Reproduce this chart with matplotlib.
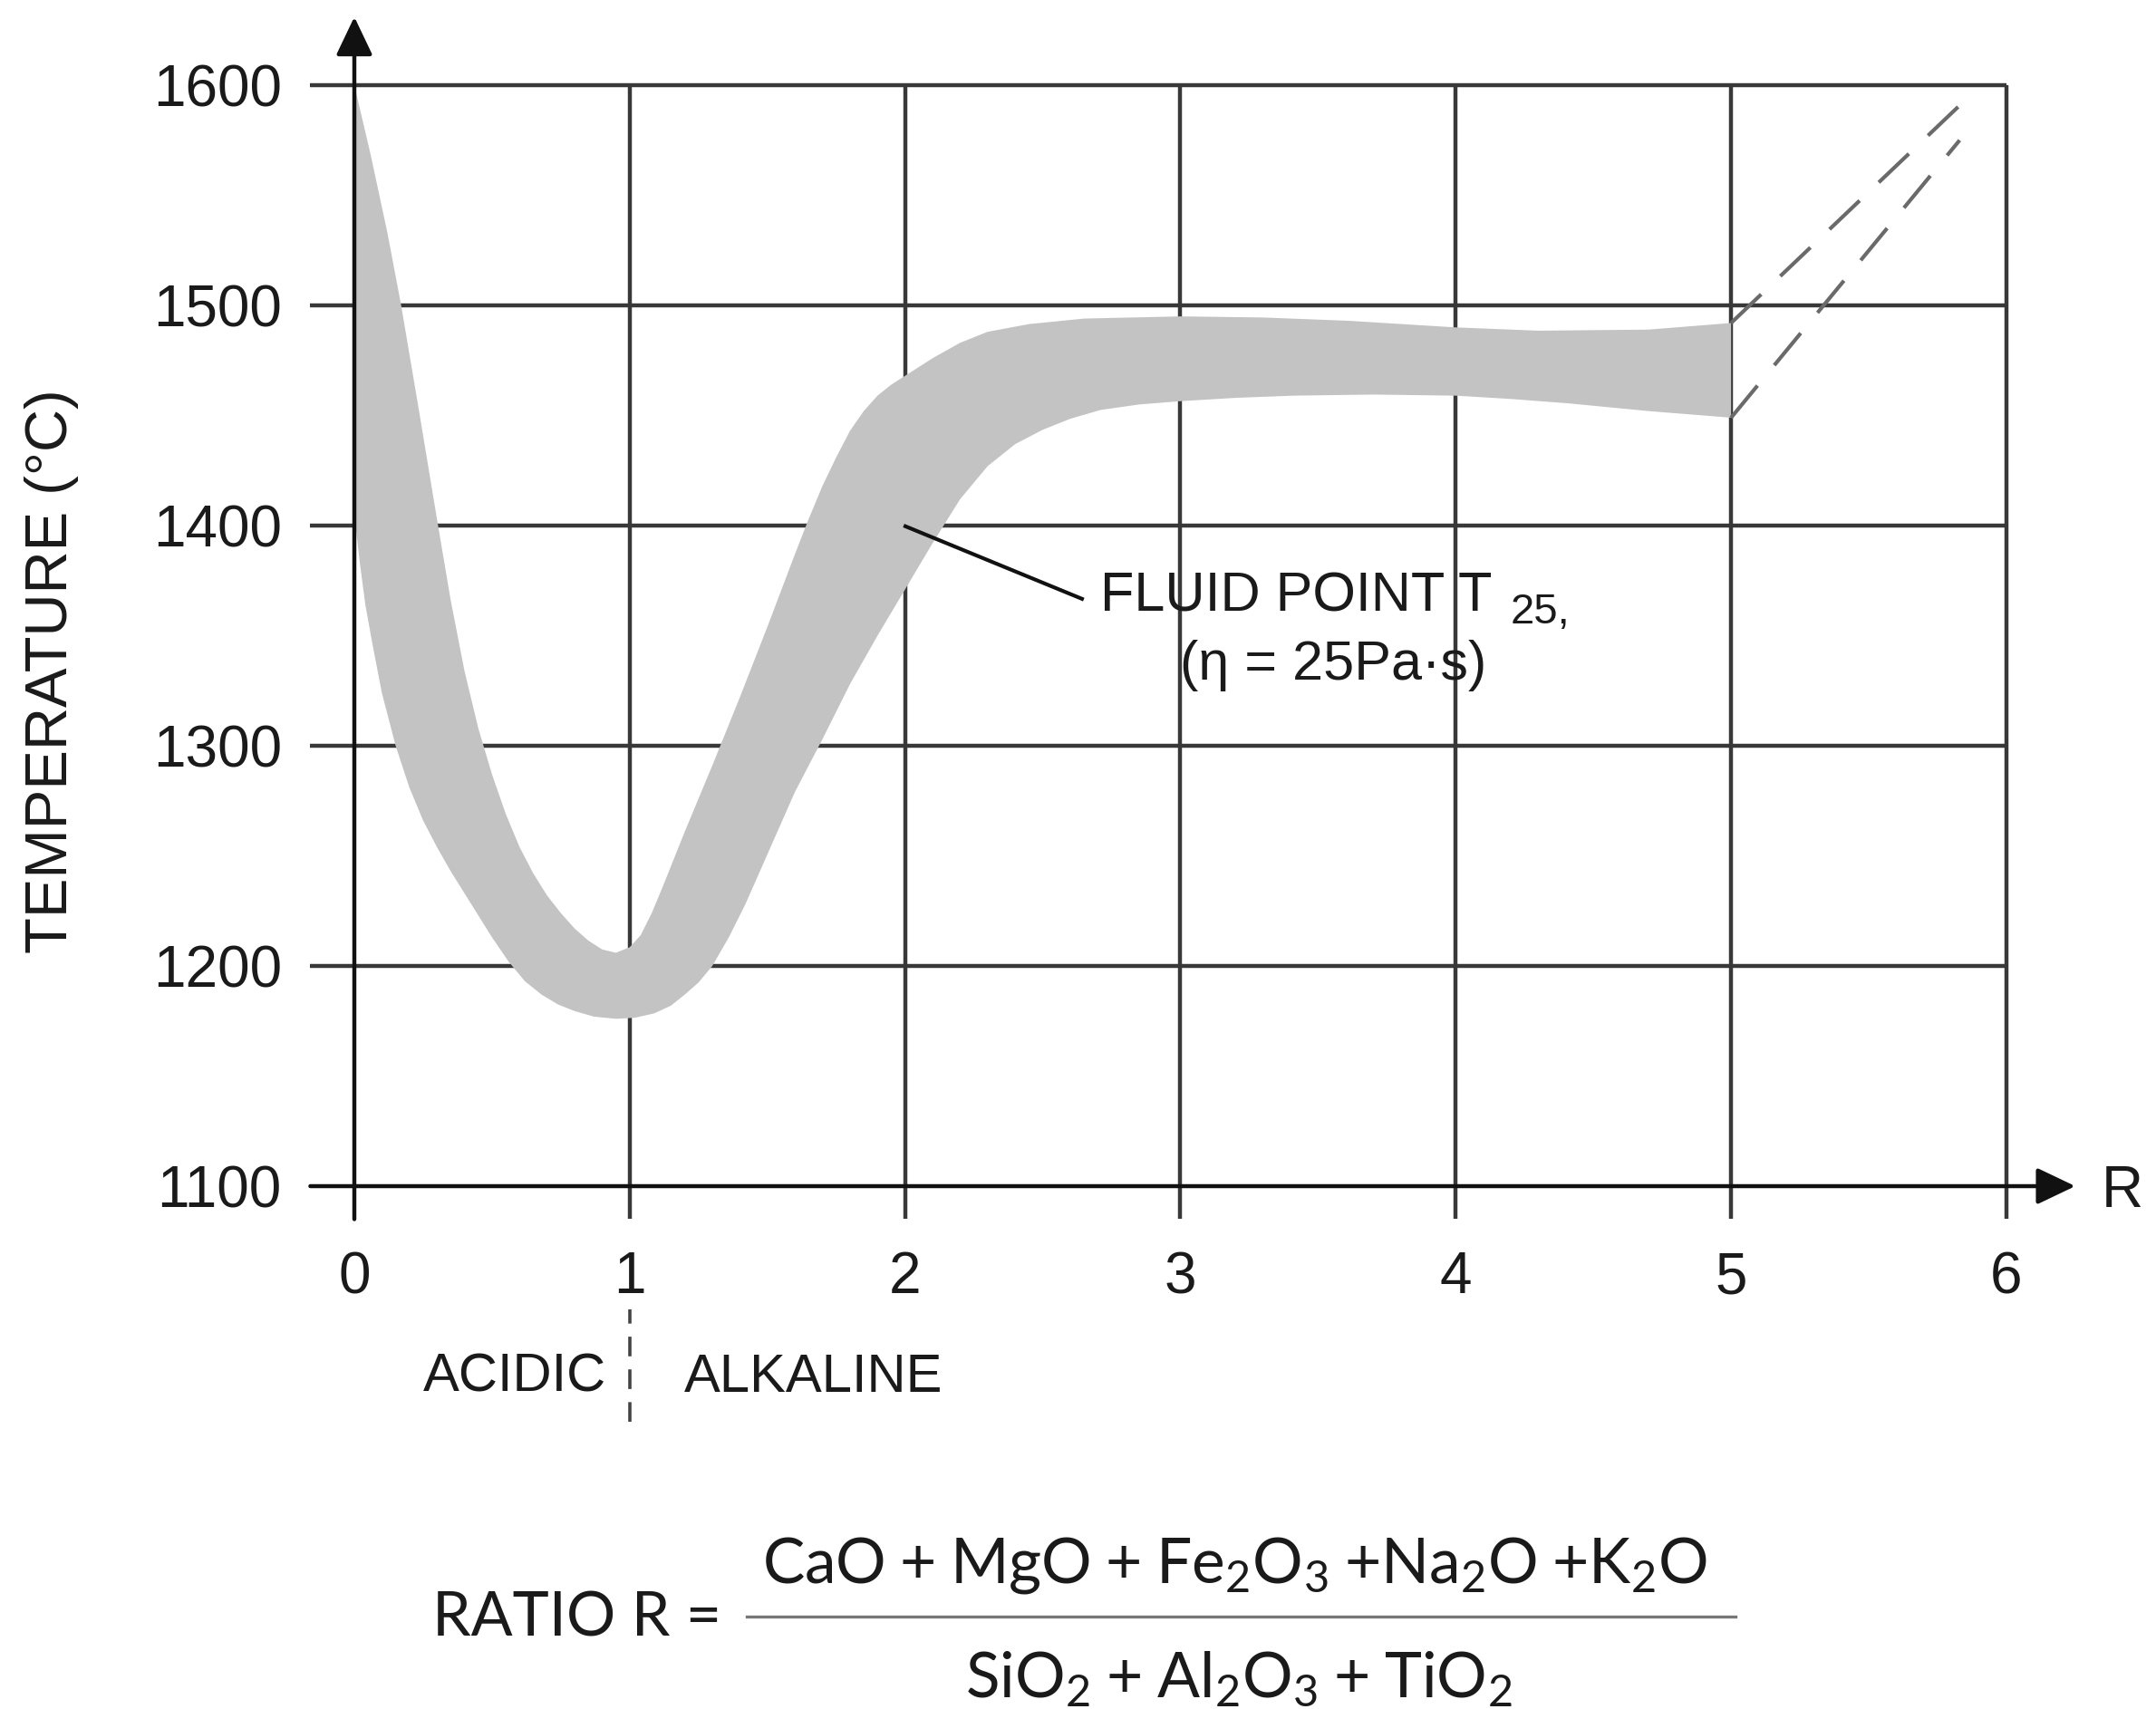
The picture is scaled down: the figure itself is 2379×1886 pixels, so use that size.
import matplotlib
matplotlib.use("Agg")
import matplotlib.pyplot as plt
from matplotlib.lines import Line2D

plt.rcParams["font.family"] = ["Liberation Sans", "DejaVu Sans"]
plt.rcParams["mathtext.fontset"] = "custom"
plt.rcParams["mathtext.rm"] = "Lato"
plt.rcParams["mathtext.it"] = "Lato:italic"
plt.rcParams["mathtext.bf"] = "Lato:bold"

# fluid point band, upper and lower edge (R, temperature in °C)
upper_r = [0.00, 0.06, 0.12, 0.17, 0.235, 0.30, 0.35, 0.40, 0.45, 0.50, 0.55,
           0.60, 0.65, 0.70, 0.75, 0.80, 0.85, 0.90, 0.95, 1.00, 1.04, 1.08,
           1.12, 1.20, 1.30, 1.40, 1.50, 1.60, 1.65, 1.70, 1.75, 1.80, 1.85,
           1.90, 1.95, 2.00, 2.10, 2.20, 2.30, 2.45, 2.65, 3.00, 3.30, 3.61,
           4.00, 4.30, 4.70, 5.00]
upper_t = [1600, 1568, 1533, 1500, 1452, 1403, 1366, 1334, 1308, 1287, 1269,
           1254, 1242, 1232, 1224, 1217, 1211.5, 1207.5, 1206, 1208.5, 1214, 1224,
           1236, 1261, 1291, 1322, 1354, 1387, 1403, 1418, 1431, 1443, 1452,
           1459, 1464, 1468, 1476, 1483, 1488, 1491.5, 1494, 1495, 1494.5, 1493,
           1490, 1488.5, 1489, 1492]

lower_r = [0.00, 0.02, 0.04, 0.066, 0.10, 0.15, 0.20, 0.25, 0.30, 0.35, 0.40,
           0.45, 0.50, 0.56, 0.62, 0.68, 0.74, 0.80, 0.87, 0.95, 1.02, 1.09,
           1.15, 1.20, 1.25, 1.30, 1.36, 1.42, 1.48, 1.54, 1.60, 1.70, 1.80,
           1.90, 2.00, 2.10, 2.20, 2.30, 2.40, 2.50, 2.60, 2.71, 2.85, 3.00,
           3.20, 3.41, 3.70, 4.00, 4.20, 4.41, 4.70, 5.00]
lower_t = [1405, 1383, 1364, 1346, 1324, 1300, 1281, 1266, 1254, 1243, 1233,
           1223, 1213, 1202, 1193, 1187, 1182.5, 1179.5, 1177, 1176, 1176.5, 1178.5,
           1182, 1187, 1192.5, 1200, 1213, 1228, 1245, 1262, 1279, 1303, 1328,
           1350, 1371, 1392, 1412, 1427, 1437, 1443.5, 1448.5, 1452.5, 1455, 1456.5,
           1458, 1459, 1459.5, 1459, 1457.5, 1455.5, 1452, 1449]

# dashed extrapolation beyond R = 5
ext_upper_r = [5.00, 5.84]
ext_upper_t = [1492, 1592]
ext_lower_r = [5.00, 5.83]
ext_lower_t = [1449, 1575]

x_ticks = [0, 1, 2, 3, 4, 5, 6]
y_ticks = [1100, 1200, 1300, 1400, 1500, 1600]

leader_r = [1.995, 2.649]
leader_t = [1400, 1366.4]

acid_split = 1.0

GRID = "#383838"
TEXT = "#1a1a1a"

fig = plt.figure(figsize=(23.79, 18.86), dpi=100)
ax = fig.add_axes([0.13881, 0.28661, 0.84291, 0.70864])
ax.set_xlim(-0.2, 6.4)
ax.set_ylim(1085, 1635)
for s in ax.spines.values():
    s.set_visible(False)

ax.set_xticks(x_ticks)
ax.set_yticks(y_ticks)
ax.tick_params(axis="both", length=0, labelsize=46, colors=TEXT)
ax.tick_params(axis="x", pad=25)
ax.tick_params(axis="y", pad=14)

# grid lines (they stick out past the axes like ticks)
ax.hlines(y_ticks[1:], -0.16, x_ticks[-1], color=GRID, lw=3.2, zorder=1)
ax.vlines(x_ticks[1:], 1085, y_ticks[-1], color=GRID, lw=3.2, zorder=1)

# band
ax.fill(upper_r + lower_r[::-1], upper_t + lower_t[::-1],
        color="#c3c3c3", lw=0, zorder=2)

ax.plot(ext_upper_r, ext_upper_t, color="#6a6a6a", lw=3, ls=(0, (11, 7)), zorder=3)
ax.plot(ext_lower_r, ext_lower_t, color="#6a6a6a", lw=3, ls=(0, (11, 7)), zorder=3)

# axes with arrows
arrow = dict(arrowstyle="-|>,head_length=1.3,head_width=0.62", color="#111111",
             lw=3.2, mutation_scale=20, shrinkA=0, shrinkB=0)
ax.annotate("", xy=(0, 1631), xytext=(0, 1085), arrowprops=arrow, zorder=4,
            annotation_clip=False)
ax.annotate("", xy=(6.25, 1100), xytext=(-0.16, 1100), arrowprops=arrow, zorder=4,
            annotation_clip=False)
ax.text(6.42, 1097.5, "R", fontsize=46, ha="center", va="center", color=TEXT)

ax.text(-1.10, 1334, "TEMPERATURE (°C)", rotation=90, fontsize=47,
        ha="center", va="center", color=TEXT)

# annotation
ax.plot(leader_r, leader_t, color="#111111", lw=3, zorder=4, solid_capstyle="butt")
ax.text(2.71, 1361, "FLUID POINT T", fontsize=44, ha="left", va="baseline", color=TEXT)
ax.text(4.20, 1355.6, "25,", fontsize=34, ha="left", va="baseline", color=TEXT)
ax.text(3.555, 1330, "(η = 25Pa·s)", fontsize=44, ha="center", va="baseline", color=TEXT)

# acidic / alkaline split
ax.plot([acid_split, acid_split], [993, 1044], color="#444444", lw=2.6,
        ls=(0, (6, 4)), clip_on=False)
ax.text(acid_split - 0.085, 1006.6, "ACIDIC", fontsize=43, ha="right",
        va="baseline", color=TEXT)
ax.text(acid_split + 0.198, 1006.6, "ALKALINE", fontsize=43, ha="left",
        va="baseline", color=TEXT)

# ratio formula
fig.text(0.2003, 0.04242, "RATIO R =", fontsize=49, family="Lato",
         ha="left", va="baseline", color=TEXT)
fig.text(0.5725, 0.07386,
         r"$\mathrm{CaO\;{+}\;MgO\;{+}\;Fe_2O_3\;{+}Na_2O\;{+}K_2O}$",
         fontsize=50, ha="center", va="baseline", color=TEXT)
fig.text(0.5746, 0.00742, r"$\mathrm{SiO_2\;{+}\;Al_2O_3\;{+}\;TiO_2}$",
         fontsize=50, ha="center", va="baseline", color=TEXT)
fig.add_artist(Line2D([0.3462, 0.8051], [0.05408, 0.05408], color="#777777", lw=2.4))

fig.savefig("out.png", dpi=100)
